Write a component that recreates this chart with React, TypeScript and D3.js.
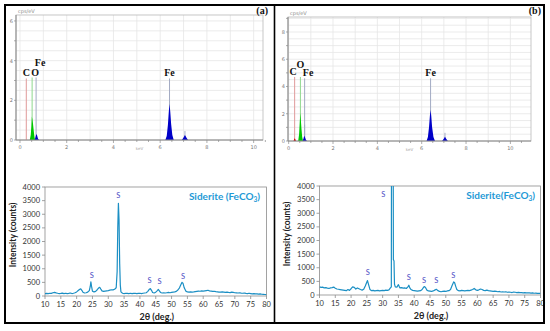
import React, { useRef, useEffect } from 'react';
import * as d3 from 'd3';

// ---- EDS spectra (energy keV, intensity cps/eV) ----
const edsOA = [[0.42, 0], [0.46, 0.25], [0.49, 0.7], [0.51, 1.18], [0.53, 1.05], [0.56, 0.8], [0.59, 0.45], [0.62, 0.15], [0.65, 0]];
const edsFeLA = [[0.63, 0], [0.66, 0.12], [0.7, 0.3], [0.73, 0.24], [0.77, 0.08], [0.81, 0]];
const edsFeKaA = [[6.22, 0], [6.28, 0.2], [6.33, 0.75], [6.37, 1.45], [6.4, 1.82], [6.43, 1.45], [6.47, 0.8], [6.52, 0.25], [6.58, 0]];
const edsFeKbA = [[6.93, 0], [7.0, 0.12], [7.06, 0.25], [7.12, 0.12], [7.19, 0]];
const edsLinesA = [
  { el: 'C', e: 0.27, h: 3.1 },
  { el: 'O', e: 0.52, h: 3.15 },
  { el: 'Fe', e: 0.69, h: 3.15 },
  { el: 'Fe', e: 6.4, h: 3.1 },
  { el: '', e: 7.06, h: 0.45 },
];

const edsCB = [[0.22, 0], [0.25, 0.12], [0.27, 0.2], [0.3, 0.12], [0.33, 0]];
const edsOB = [[0.43, 0], [0.47, 0.5], [0.5, 1.35], [0.525, 2.05], [0.55, 1.55], [0.58, 0.85], [0.61, 0.3], [0.65, 0]];
const edsFeLB = [[0.63, 0], [0.67, 0.18], [0.7, 0.38], [0.74, 0.26], [0.78, 0.08], [0.83, 0]];
const edsFeKaB = [[6.22, 0], [6.28, 0.3], [6.33, 1.0], [6.37, 1.85], [6.4, 2.28], [6.43, 1.85], [6.47, 1.0], [6.53, 0.3], [6.6, 0]];
const edsFeKbB = [[6.92, 0], [6.99, 0.15], [7.05, 0.32], [7.11, 0.15], [7.18, 0]];
const edsLinesB = [
  { el: 'C', e: 0.27, h: 4.7 },
  { el: 'O', e: 0.53, h: 4.7 },
  { el: 'Fe', e: 0.72, h: 4.6 },
  { el: '', e: 0.72, h: 1.2 },
  { el: 'Fe', e: 6.4, h: 4.6 },
  { el: '', e: 7.05, h: 0.6 },
];

// ---- XRD patterns (2theta deg, counts) ----
const xrdA = [
  [10, 90], [10.5, 95], [11, 85], [11.5, 100], [12, 95], [12.5, 120], [13, 135], [13.5, 115], [14, 100], [14.5, 90],
  [15, 95], [15.5, 105], [16, 90], [16.5, 100], [17, 85], [17.5, 95], [18, 110], [18.5, 90], [19, 100], [19.5, 120],
  [20, 150], [20.5, 200], [21, 250], [21.3, 265], [21.7, 200], [22, 140], [22.5, 110], [23, 120], [23.5, 140], [24, 200],
  [24.3, 350], [24.5, 520], [24.7, 360], [25, 180], [25.5, 150], [26, 170], [26.5, 230], [27, 300], [27.3, 320], [27.7, 240],
  [28, 190], [28.5, 170], [29, 180], [29.5, 190], [30, 200], [30.5, 215], [31, 230], [31.5, 225], [32, 250], [32.5, 300],
  [32.8, 900], [33.0, 2500], [33.2, 3400], [33.4, 2800], [33.6, 1200], [33.8, 400], [34, 150], [34.5, 100], [35, 90], [35.5, 100],
  [36, 95], [36.5, 90], [37, 100], [37.5, 85], [38, 95], [38.5, 100], [39, 90], [39.5, 95], [40, 100], [40.5, 90],
  [41, 100], [41.5, 110], [42, 120], [42.5, 170], [43, 250], [43.3, 270], [43.7, 200], [44, 130], [44.5, 110], [45, 140],
  [45.5, 200], [45.8, 240], [46.2, 180], [46.5, 130], [47, 110], [47.5, 120], [48, 110], [48.5, 120], [49, 130], [49.5, 120],
  [50, 130], [50.5, 140], [51, 150], [51.5, 170], [52, 220], [52.5, 300], [53, 430], [53.3, 500], [53.6, 470], [54, 300],
  [54.5, 180], [55, 150], [55.5, 140], [56, 150], [56.5, 145], [57, 150], [57.5, 160], [58, 170], [58.5, 180], [59, 175],
  [59.5, 185], [60, 180], [60.5, 190], [61, 200], [61.5, 210], [62, 190], [62.5, 180], [63, 170], [63.5, 175], [64, 160],
  [64.5, 150], [65, 140], [65.5, 145], [66, 150], [66.5, 140], [67, 130], [67.5, 140], [68, 130], [68.5, 125], [69, 140],
  [69.5, 130], [70, 120], [70.5, 115], [71, 110], [71.5, 120], [72, 105], [72.5, 100], [73, 110], [73.5, 95], [74, 90],
  [74.5, 100], [75, 90], [75.5, 80], [76, 85], [76.5, 75], [77, 80], [77.5, 70], [78, 75], [78.5, 65], [79, 60],
  [79.5, 55], [80, 50],
];

const xrdB = [
  [10, 300], [10.5, 280], [11, 290], [11.5, 260], [12, 270], [12.5, 250], [13, 240], [13.5, 260], [14, 270], [14.5, 290],
  [15, 250], [15.5, 220], [16, 210], [16.5, 200], [17, 190], [17.5, 180], [18, 170], [18.5, 160], [19, 200], [19.5, 170],
  [20, 230], [20.5, 300], [21, 280], [21.5, 220], [22, 260], [22.5, 230], [23, 200], [23.5, 180], [24, 210], [24.5, 330],
  [25, 480], [25.2, 530], [25.5, 400], [26, 200], [26.5, 160], [27, 170], [27.5, 150], [28, 160], [28.5, 170], [29, 150],
  [29.5, 160], [30, 170], [30.5, 160], [31, 180], [31.5, 170], [32, 190], [32.4, 250], [32.75, 300], [32.8, 5000], [33.35, 5000],
  [33.4, 1300], [33.6, 1250], [33.75, 400], [34, 300], [34.5, 290], [35, 380], [35.3, 300], [35.5, 260], [36, 270], [36.5, 250],
  [37, 260], [37.5, 240], [38, 300], [38.3, 360], [38.6, 260], [39, 200], [39.5, 170], [40, 160], [40.5, 150], [41, 140],
  [41.5, 150], [42, 160], [42.5, 200], [43, 290], [43.3, 310], [43.7, 250], [44, 180], [44.5, 150], [45, 140], [45.5, 130],
  [46, 150], [46.5, 180], [47, 210], [47.4, 170], [48, 130], [48.5, 120], [49, 130], [49.5, 140], [50, 130], [50.5, 150],
  [51, 160], [51.5, 200], [52, 350], [52.5, 480], [52.8, 450], [53.2, 300], [53.5, 200], [54, 160], [54.5, 150], [55, 170],
  [55.5, 160], [56, 150], [56.5, 160], [57, 170], [57.5, 160], [58, 180], [58.5, 200], [59, 240], [59.5, 190], [60, 170],
  [60.5, 190], [61, 220], [61.5, 200], [62, 170], [62.5, 160], [63, 180], [63.5, 160], [64, 150], [64.5, 140], [65, 130],
  [65.5, 140], [66, 130], [66.5, 120], [67, 130], [67.5, 110], [68, 120], [68.5, 110], [69, 120], [69.5, 100], [70, 110],
  [70.5, 100], [71, 90], [71.5, 110], [72, 100], [72.5, 90], [73, 95], [73.5, 85], [74, 90], [74.5, 80], [75, 85],
  [75.5, 80], [76, 75], [76.5, 80], [77, 70], [77.5, 75], [78, 65], [78.5, 70], [79, 60], [79.5, 65], [80, 60],
];

// "S" peak markers: [2theta, label height in counts]
const sPeaksA = [[24.8, 660], [33.2, 3590], [43.0, 490], [46.2, 440], [53.6, 620]];
const sPeaksB = [[25.3, 730], [30.2, 3590], [38.3, 550], [43.1, 440], [47.0, 440], [52.4, 620]];

const xrdXTicks = d3.range(10, 81, 5);
const xrdYTicks = d3.range(0, 4001, 500);

const lineColor: Record<string, string> = { C: '#e09a9a', O: '#8fd88f', Fe: '#a3abc4', '': '#a3abc4' };

const App = () => {
  const svgRef = useRef(null);

  useEffect(() => {
    const svg = d3.select(svgRef.current);
    svg.selectAll('*').remove();

    const drawEds = (box, xDom, yDom, yTicks, peaks, lines, shifts, tag) => {
      const x = d3.scaleLinear().domain(xDom).range([box.x0, box.x1]);
      const y = d3.scaleLinear().domain(yDom).range([box.y1, box.y0]);
      const g = svg.append('g');

      // grid
      g.selectAll('.vg').data(d3.range(0, 11, 1)).enter().append('line')
        .attr('x1', d => x(d)).attr('x2', d => x(d))
        .attr('y1', box.y0).attr('y2', box.y1)
        .attr('stroke', '#e6e6e6').attr('stroke-width', 0.8);
      g.selectAll('.hg').data(d3.range(0.5, yDom[1], 0.5)).enter().append('line')
        .attr('x1', box.x0).attr('x2', box.x1)
        .attr('y1', d => y(d)).attr('y2', d => y(d))
        .attr('stroke', '#e6e6e6').attr('stroke-width', 0.8);

      g.append('rect')
        .attr('x', box.x0).attr('y', box.y0)
        .attr('width', box.x1 - box.x0).attr('height', box.y1 - box.y0)
        .attr('fill', 'none').attr('stroke', '#b8b8b8').attr('stroke-width', 0.8);

      // marker lines
      g.selectAll('.ml').data(lines).enter().append('line')
        .attr('x1', d => x(d.e)).attr('x2', d => x(d.e))
        .attr('y1', y(0)).attr('y2', d => y(d.h))
        .attr('stroke', d => lineColor[d.el]).attr('stroke-width', 1);

      // peaks
      const area = d3.area().x(d => x(d[0])).y0(y(0)).y1(d => y(d[1]));
      peaks.forEach(p => {
        g.append('path').attr('d', area(p.pts)).attr('fill', p.color);
      });

      // element labels
      lines.forEach((d, i) => {
        if (!d.el) return;
        g.append('text')
          .attr('x', x(d.e) + shifts[i][0])
          .attr('y', y(d.h) - 2 + shifts[i][1])
          .attr('text-anchor', 'middle')
          .attr('font-family', 'Liberation Serif')
          .attr('font-weight', 'bold')
          .attr('font-size', 10)
          .attr('fill', '#111')
          .text(d.el);
      });

      // axes ticks
      const ax = '#8a8a8a';
      g.append('line').attr('x1', box.x0).attr('x2', box.x1).attr('y1', box.y1).attr('y2', box.y1).attr('stroke', ax);
      g.append('line').attr('x1', box.x0).attr('x2', box.x0).attr('y1', box.y0).attr('y2', box.y1).attr('stroke', ax);
      g.selectAll('.xt').data(d3.range(0, 10.6, 0.5)).enter().append('line')
        .attr('x1', d => x(d)).attr('x2', d => x(d))
        .attr('y1', box.y1).attr('y2', d => box.y1 + (d % 2 === 0 ? 3 : 2))
        .attr('stroke', ax).attr('stroke-width', 0.7);
      g.selectAll('.xl').data(d3.range(0, 11, 2)).enter().append('text')
        .attr('x', d => x(d)).attr('y', box.y1 + 9)
        .attr('text-anchor', 'middle').attr('font-family', 'DejaVu Sans')
        .attr('font-size', 5).attr('fill', '#777').text(d => d);
      g.selectAll('.yt').data(d3.range(0, yDom[1], 1)).enter().append('line')
        .attr('x1', box.x0 - 2).attr('x2', box.x0)
        .attr('y1', d => y(d)).attr('y2', d => y(d))
        .attr('stroke', ax).attr('stroke-width', 0.7);
      g.selectAll('.yl').data(yTicks).enter().append('text')
        .attr('x', box.x0 - 3).attr('y', d => y(d) + 2)
        .attr('text-anchor', 'end').attr('font-family', 'DejaVu Sans')
        .attr('font-size', 5).attr('fill', '#777').text(d => d);

      g.append('text').attr('x', box.x0 + 2).attr('y', box.y0 - 2)
        .attr('font-family', 'DejaVu Sans').attr('font-size', 5).attr('fill', '#888').text('cps/eV');
      g.append('text').attr('x', (box.x0 + box.x1) / 2).attr('y', box.y1 + 10)
        .attr('text-anchor', 'middle')
        .attr('font-family', 'DejaVu Sans').attr('font-size', 4).attr('fill', '#aaa').text('keV');

      g.append('text').attr('x', tag.x).attr('y', tag.y)
        .attr('text-anchor', 'end')
        .attr('font-family', 'Liberation Serif').attr('font-weight', 'bold')
        .attr('font-size', 10).attr('fill', '#111').text(tag.text);
    };

    const drawXrd = (box, data, peaks, title, titleX, yTitleX, yTitleY) => {
      const x = d3.scaleLinear().domain([10, 80]).range([box.x0, box.x1]);
      const y = d3.scaleLinear().domain([0, 4000]).range([box.y1, box.y0]);
      const g = svg.append('g');
      const ax = '#8c8c8c';
      const clipId = 'clip' + Math.round(box.x0);

      g.append('clipPath').attr('id', clipId).append('rect')
        .attr('x', box.x0).attr('y', box.y0)
        .attr('width', box.x1 - box.x0).attr('height', box.y1 - box.y0);

      g.append('rect')
        .attr('x', box.x0).attr('y', box.y0)
        .attr('width', box.x1 - box.x0).attr('height', box.y1 - box.y0)
        .attr('fill', 'none').attr('stroke', ax).attr('stroke-width', 0.8);

      g.selectAll('.yt').data(xrdYTicks).enter().append('line')
        .attr('x1', box.x0 - 3).attr('x2', box.x0)
        .attr('y1', d => y(d)).attr('y2', d => y(d))
        .attr('stroke', ax).attr('stroke-width', 0.8);
      g.selectAll('.yl').data(xrdYTicks).enter().append('text')
        .attr('x', box.x0 - 5).attr('y', d => y(d) + 2.6)
        .attr('text-anchor', 'end').attr('font-family', 'Lato')
        .attr('font-size', 7.5).attr('fill', '#333').text(d => d);
      g.selectAll('.xt').data(xrdXTicks).enter().append('line')
        .attr('x1', d => x(d)).attr('x2', d => x(d))
        .attr('y1', box.y1).attr('y2', box.y1 + 3)
        .attr('stroke', ax).attr('stroke-width', 0.8);
      g.selectAll('.xl').data(xrdXTicks).enter().append('text')
        .attr('x', d => x(d)).attr('y', box.y1 + 11)
        .attr('text-anchor', 'middle').attr('font-family', 'Lato')
        .attr('font-size', 7.5).attr('fill', '#333').text(d => d);

      const line = d3.line().x(d => x(d[0])).y(d => y(d[1]));
      g.append('path')
        .attr('d', line(data))
        .attr('clip-path', `url(#${clipId})`)
        .attr('fill', 'none').attr('stroke', '#1b8fc4').attr('stroke-width', 1.2)
        .attr('stroke-linejoin', 'round');

      g.selectAll('.sp').data(peaks).enter().append('text')
        .attr('x', d => x(d[0])).attr('y', d => y(d[1]))
        .attr('text-anchor', 'middle').attr('font-family', 'Lato')
        .attr('font-size', 7.5).attr('fill', '#4a4ac4').text('S');

      const t = g.append('text').attr('x', titleX).attr('y', box.y0 + 13)
        .attr('text-anchor', 'end').attr('font-family', 'Lato').attr('font-weight', 'bold')
        .attr('font-size', 10).attr('fill', '#1f9ad6');
      t.append('tspan').text(title);
      t.append('tspan').attr('font-size', 6.5).attr('dy', 2).text('3');
      t.append('tspan').attr('dy', -2).text(')');

      g.append('text')
        .attr('transform', `translate(${yTitleX},${yTitleY}) rotate(-90)`)
        .attr('text-anchor', 'middle').attr('font-family', 'Lato').attr('font-weight', 'bold')
        .attr('font-size', 8.5).attr('fill', '#222').text('Intensity (counts)');
      g.append('text')
        .attr('x', (box.x0 + box.x1) / 2 + 1).attr('y', box.y1 + 24)
        .attr('text-anchor', 'middle').attr('font-family', 'Lato').attr('font-weight', 'bold')
        .attr('font-size', 9).attr('fill', '#222').text('2θ (deg.)');
    };

    drawEds(
      { x0: 16, x1: 263, y0: 15, y1: 140 }, [-0.17, 10.4], [0, 6.3], [0, 2, 4, 6],
      [
        { color: '#00c800', pts: edsOA },
        { color: '#0000c8', pts: edsFeLA },
        { color: '#0000c8', pts: edsFeKaA },
        { color: '#0000c8', pts: edsFeKbA },
      ],
      edsLinesA, [[0, 0], [3, 0], [4, -10], [0, 0], [0, 0]],
      { x: 268, y: 14, text: '(a)' }
    );

    drawEds(
      { x0: 288, x1: 531, y0: 17, y1: 141 }, [-0.03, 10.93], [0, 9.1], [0, 2, 4, 6, 8],
      [
        { color: '#d00000', pts: edsCB },
        { color: '#00c800', pts: edsOB },
        { color: '#0000c8', pts: edsFeLB },
        { color: '#0000c8', pts: edsFeKaB },
        { color: '#0000c8', pts: edsFeKbB },
      ],
      edsLinesB, [[-1.5, 0], [0, -7], [3.5, 0], [0, 0], [0, 0], [0, 0]],
      { x: 541, y: 14, text: '(b)' }
    );

    drawXrd({ x0: 45, x1: 266.5, y0: 187, y1: 296 }, xrdA, sPeaksA, 'Siderite (FeCO', 260, 16, 235);
    drawXrd({ x0: 319.5, x1: 540.5, y0: 186, y1: 295 }, xrdB, sPeaksB, 'Siderite(FeCO', 535, 290, 234);

    // outer frame and divider
    svg.append('rect')
      .attr('x', 5).attr('y', 5).attr('width', 539).attr('height', 318)
      .attr('fill', 'none').attr('stroke', '#000').attr('stroke-width', 2);
    svg.append('line')
      .attr('x1', 274.5).attr('x2', 274.5).attr('y1', 5).attr('y2', 323)
      .attr('stroke', '#000').attr('stroke-width', 1.6);
  }, []);

  return (
    <svg ref={svgRef} width={550} height={331}
      style={{ position: 'absolute', left: 0, top: 0, background: '#fff' }} />
  );
};

export default App;
